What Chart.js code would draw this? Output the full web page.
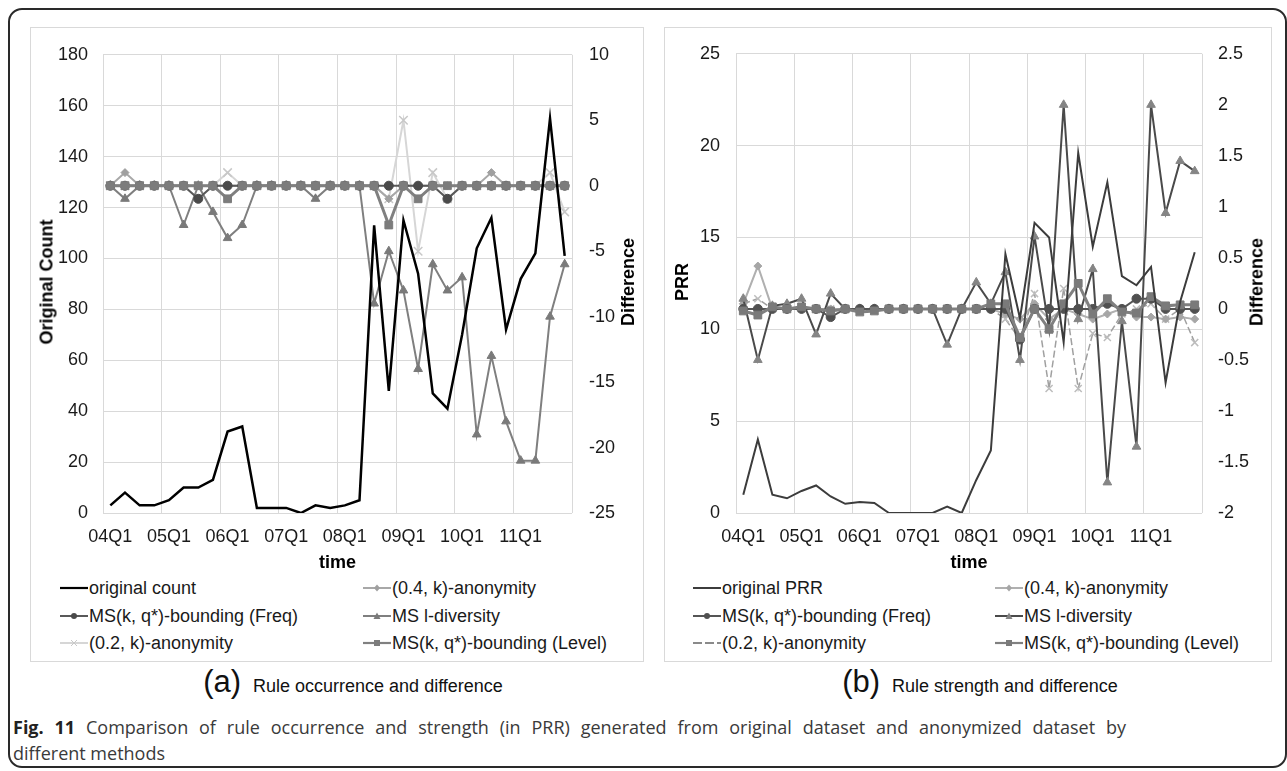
<!DOCTYPE html>
<html>
<head>
<meta charset="utf-8">
<script src="https://cdn.jsdelivr.net/npm/chart.js@4.4.1/dist/chart.umd.min.js"></script>
<style>
html,body{margin:0;padding:0;background:#fff;}
body{position:relative;width:1287px;height:771px;overflow:hidden;font-family:"Liberation Sans",Arial,sans-serif;color:#111;}
#frame{position:absolute;left:8px;top:8px;width:1279px;height:760px;border:2px solid #2a2a2a;border-radius:14px;box-sizing:border-box;}
.panel{position:absolute;top:27px;height:635px;border:1px solid #d9d9d9;box-sizing:border-box;}
canvas{position:absolute;}
.ytitle{position:absolute;font-weight:bold;font-size:18px;white-space:nowrap;transform:translate(-50%,-50%) rotate(-90deg);color:#000;}
.leg{position:absolute;display:flex;align-items:center;height:24px;font-size:18px;white-space:nowrap;color:#1a1a1a;}
.leg svg{margin-right:1px;}
.sub{position:absolute;top:664px;width:600px;text-align:center;white-space:nowrap;color:#111;}
.sub .big{font-size:31px;}
.sub .small{font-size:18px;margin-left:12px;}
.cap{position:absolute;left:13px;width:1113px;font-family:"Open Sans",sans-serif;font-size:18px;color:#3a3a3a;line-height:22px;}
.cap1{text-align:justify;text-align-last:justify;}
</style>
</head>
<body>
<div id="frame"></div>
<div class="panel" style="left:30px;width:614px;"></div>
<div class="panel" style="left:664px;width:608px;"></div>
<canvas id="chartA" width="614" height="547" style="left:30px;top:27px;width:614px;height:547px;"></canvas>
<canvas id="chartB" width="608" height="547" style="left:664px;top:27px;width:608px;height:547px;"></canvas>
<div class="ytitle" style="left:47px;top:282px;">Original Count</div>
<div class="ytitle" style="left:628px;top:282px;">Difference</div>
<div class="ytitle" style="left:682px;top:282px;">PRR</div>
<div class="ytitle" style="left:1257px;top:282px;">Difference</div>
<div id="legA"></div>
<div id="legB"></div>
<div class="sub" style="left:53px;"><span class="big">(a)</span><span class="small">Rule occurrence and difference</span></div>
<div class="sub" style="left:680px;"><span class="big">(b)</span><span class="small">Rule strength and difference</span></div>
<div class="cap cap1" style="top:716px;"><b style="color:#222;">Fig. 11</b> Comparison of rule occurrence and strength (in PRR) generated from original dataset and anonymized dataset by</div>
<div class="cap" style="top:742px;">different methods</div>
<script>
// ---------- data ----------
const quarters = ["04Q1","04Q2","04Q3","04Q4","05Q1","05Q2","05Q3","05Q4",
                  "06Q1","06Q2","06Q3","06Q4","07Q1","07Q2","07Q3","07Q4",
                  "08Q1","08Q2","08Q3","08Q4","09Q1","09Q2","09Q3","09Q4",
                  "10Q1","10Q2","10Q3","10Q4","11Q1","11Q2","11Q3","11Q4"];

// panel (a): rule occurrence (left axis) and difference (right axis)
const originalCount = [3,8,3,3,5,10,10,13,32,34,2,2,2,0,3,2,3,5,113,48,115,94,47,41,70,104,116,72,92,102,155,101];
const anon04CountDiff = [0,1,0,0,0,0,0,0,0,0,0,0,0,0,0,0,0,0,0,-1,0,0,0,0,0,0,1,0,0,0,0,0];
const freqCountDiff   = [0,0,0,0,0,0,-1,0,0,0,0,0,0,0,0,0,0,0,0,0,0,0,0,-1,0,0,0,0,0,0,0,0];
const ldivCountDiff   = [0,-1,0,0,0,-3,0,-2,-4,-3,0,0,0,0,-1,0,0,0,-9,-5,-8,-14,-6,-8,-7,-19,-13,-18,-21,-21,-10,-6];
const anon02CountDiff = [0,0,0,0,0,0,0,0,1,0,0,0,0,0,0,0,0,0,0,-1,5,-5,1,-1,0,0,0,0,0,0,1,-2];
const levelCountDiff  = [0,0,0,0,0,0,0,0,-1,0,0,0,0,0,0,0,0,0,0,-3,0,-1,0,0,0,0,0,0,0,0,0,0];

// panel (b): rule strength PRR (left axis) and difference (right axis)
const originalPRR   = [1.0,4.0,1.0,0.8,1.2,1.5,0.9,0.5,0.6,0.55,0,0,0,0,0.35,0,1.8,3.4,14.1,10.6,15.8,15.0,9.3,19.6,14.5,18.0,12.9,12.4,13.4,7.1,11.5,14.2];
const anon04PRRDiff = [0.05,0.42,0,0,0,0,0,0,0,0,0,0,0,0,0,0,0,0,-0.05,-0.1,0.05,-0.1,0,-0.05,-0.1,-0.05,0,-0.08,-0.08,-0.1,-0.08,-0.1];
const freqPRRDiff   = [0,0,0,0,0,0,-0.08,0,0,0,0,0,0,0,0,0,0,0,0,-0.3,0,0,0,0,0,0.05,0,0.1,0.1,0,0,0];
const ldivPRRDiff   = [0.1,-0.5,0.03,0.05,0.1,-0.25,0.15,0,0,0,0,0,0,0,-0.35,0,0.26,0.05,0.36,-0.5,0.71,-0.2,2.0,-0.1,0.39,-1.7,-0.12,-1.35,2.0,0.94,1.45,1.35];
const anon02PRRDiff = [0.05,0.1,0,0,0,0,0,0,0,0,0,0,0,0,0,0,0,0,-0.1,-0.3,0.15,-0.78,0.2,-0.78,-0.24,-0.28,-0.05,0,0.05,-0.1,0,-0.33];
const levelPRRDiff  = [-0.02,-0.06,0.02,0,0.02,0,-0.02,0,-0.03,-0.02,0,0,0,0,0,0,0,0.05,0.05,-0.28,0,-0.2,0.05,0.25,-0.05,0.1,-0.03,-0.04,0.12,0.03,0.04,0.04];

const labelsA = ["original count","(0.4, k)-anonymity","MS(k, q*)-bounding (Freq)","MS l-diversity","(0.2, k)-anonymity","MS(k, q*)-bounding (Level)"];
const labelsB = ["original PRR","(0.4, k)-anonymity","MS(k, q*)-bounding (Freq)","MS l-diversity","(0.2, k)-anonymity","MS(k, q*)-bounding (Level)"];

// ---------- styles ----------
const stylesA = [
  {line:'#000000', lw:2.5, marker:null, order:0},
  {line:'#a8a8a8', lw:2, marker:'rectRot', mc:'#a0a0a0', pr:4, order:4},
  {line:'#595959', lw:2, marker:'circle', mc:'#4a4a4a', pr:4.5, order:2},
  {line:'#7f7f7f', lw:2, marker:'triangle', mc:'#7a7a7a', pr:5, order:3},
  {line:'#d6d6d6', lw:2, marker:'crossRot', mc:'#c8c8c8', pr:6, order:5},
  {line:'#808080', lw:3, marker:'rect', mc:'#7c7c7c', pr:5.5, order:1}
];
const stylesB = [
  {line:'#3c3c3c', lw:2, marker:null, order:0},
  {line:'#b0b0b0', lw:2, marker:'rectRot', mc:'#a6a6a6', pr:4, order:4},
  {line:'#555555', lw:2, marker:'circle', mc:'#505050', pr:4.5, order:2},
  {line:'#4a4a4a', lw:2, marker:'triangle', mc:'#858585', pr:5, order:3},
  {line:'#a0a0a0', lw:1.5, marker:'crossRot', mc:'#bdbdbd', pr:5, dash:[7,3], order:5},
  {line:'#808080', lw:3, marker:'rect', mc:'#7a7a7a', pr:5.5, order:1}
];

Chart.defaults.font.family = '"Liberation Sans", Arial, sans-serif';
Chart.defaults.color = '#1a1a1a';

function makeDataset(label, data, st, axis){
  return {
    label, data, yAxisID: axis,
    borderColor: st.line, backgroundColor: st.mc || st.line,
    borderWidth: st.lw, borderDash: st.dash || [],
    tension: 0, fill: false, order: st.order,
    pointStyle: st.marker || 'circle',
    pointRadius: st.marker ? st.pr : 0,
    pointHoverRadius: st.marker ? st.pr : 0,
    pointBackgroundColor: st.mc || st.line,
    pointBorderColor: st.mc || st.line,
    pointBorderWidth: st.marker === 'crossRot' ? 1.5 : 1
  };
}

function xAxis(){
  return {
    type:'category', offset:true,
    grid:{offset:true, drawTicks:false, lineWidth:1,
      color:(c)=> (c.index === undefined || c.index % 4 === 0) ? '#d9d9d9' : 'rgba(0,0,0,0)'},
    border:{display:false},
    ticks:{autoSkip:false, maxRotation:0, minRotation:0, padding:13, font:{size:18}, color:'#1a1a1a',
      callback:(v,i)=> i % 4 === 0 ? quarters[i] : ''},
    title:{display:true, text:'time', font:{size:18, weight:'bold'}, color:'#000', padding:{top:0,bottom:0}},
    afterFit(s){ s.height = 61; }
  };
}

function fmt(v){ return String(parseFloat(Number(v).toFixed(2))); }

function buildChart(id, labels, seriesLeft, seriesRight, styles, leftAx, rightAx){
  const datasets = [makeDataset(labels[0], seriesLeft, styles[0], 'yL')];
  seriesRight.forEach((d,k)=> datasets.push(makeDataset(labels[k+1], d, styles[k+1], 'yR')));
  return new Chart(document.getElementById(id), {
    type:'line',
    data:{labels: quarters, datasets},
    options:{
      responsive:false, animation:false, devicePixelRatio:1,
      layout:{padding:{top:25,left:0,right:0,bottom:0}},
      plugins:{legend:{display:false}, tooltip:{enabled:false}},
      scales:{
        x: xAxis(),
        yL:{position:'left', min:leftAx.min, max:leftAx.max,
          ticks:{stepSize:leftAx.step, padding:leftAx.pad, font:{size:18}, color:'#1a1a1a', callback:fmt},
          grid:{color:'#d9d9d9', drawTicks:false, lineWidth:1}, border:{display:false},
          afterFit(s){ s.width = leftAx.w; }},
        yR:{position:'right', min:rightAx.min, max:rightAx.max,
          ticks:{stepSize:rightAx.step, padding:rightAx.pad, font:{size:18}, color:'#1a1a1a', callback:fmt},
          grid:{drawOnChartArea:false, drawTicks:false}, border:{display:false},
          afterFit(s){ s.width = rightAx.w; }}
      }
    }
  });
}

buildChart('chartA', labelsA, originalCount,
  [anon04CountDiff, freqCountDiff, ldivCountDiff, anon02CountDiff, levelCountDiff], stylesA,
  {min:0, max:180, step:20, pad:15, w:73}, {min:-25, max:10, step:5, pad:17, w:72});
buildChart('chartB', labelsB, originalPRR,
  [anon04PRRDiff, freqPRRDiff, ldivPRRDiff, anon02PRRDiff, levelPRRDiff], stylesB,
  {min:0, max:25, step:5, pad:16, w:72}, {min:-2, max:2.5, step:0.5, pad:16, w:70});

// ---------- legends (HTML) ----------
function swatchSVG(s, legendDash){
  const w=28, h=14, cy=7, cx=14, r=3;
  const dash = legendDash ? `stroke-dasharray="${legendDash}"` : '';
  let m = '';
  switch(s.marker){
    case 'circle': m = `<circle cx="${cx}" cy="${cy}" r="${r}" fill="${s.mc}"/>`; break;
    case 'rect': m = `<rect x="${cx-r}" y="${cy-r}" width="${2*r}" height="${2*r}" fill="${s.mc}"/>`; break;
    case 'rectRot': m = `<polygon points="${cx},${cy-r-0.5} ${cx+r},${cy} ${cx},${cy+r+0.5} ${cx-r},${cy}" fill="${s.mc}"/>`; break;
    case 'triangle': m = `<polygon points="${cx},${cy-r-0.5} ${cx+r+0.5},${cy+r} ${cx-r-0.5},${cy+r}" fill="${s.mc}"/>`; break;
    case 'crossRot': m = legendDash ? '' : `<path d="M${cx-r} ${cy-r}L${cx+r} ${cy+r}M${cx+r} ${cy-r}L${cx-r} ${cy+r}" stroke="${s.mc}" stroke-width="1"/>`; break;
  }
  return `<svg width="${w}" height="${h}"><line x1="0" y1="${cy}" x2="${w}" y2="${cy}" stroke="${s.line}" stroke-width="${Math.min(s.lw,2.2)}" ${dash}/>${m}</svg>`;
}
function buildLegend(id, labels, styles, cols, rows, dashIdx){
  const host = document.getElementById(id);
  labels.forEach((lab,k)=>{
    const d = document.createElement('div');
    d.className = 'leg';
    d.style.left = cols[k%2] + 'px';
    d.style.top = (rows[Math.floor(k/2)] - 12) + 'px';
    const st = styles[k];
    d.innerHTML = swatchSVG(st, k === dashIdx ? '9,3' : null) + '<span></span>';
    d.querySelector('span').textContent = lab;
    host.appendChild(d);
  });
}
buildLegend('legA', labelsA, stylesA, [60, 363], [588, 616, 643], -1);
buildLegend('legB', labelsB, [stylesB[0], stylesB[1], stylesB[2], stylesB[3], {line:'#8a8a8a', lw:2, marker:'crossRot', mc:'#8a8a8a'}, stylesB[5]], [693, 995], [588, 616, 643], 4);
</script>
</body>
</html>
